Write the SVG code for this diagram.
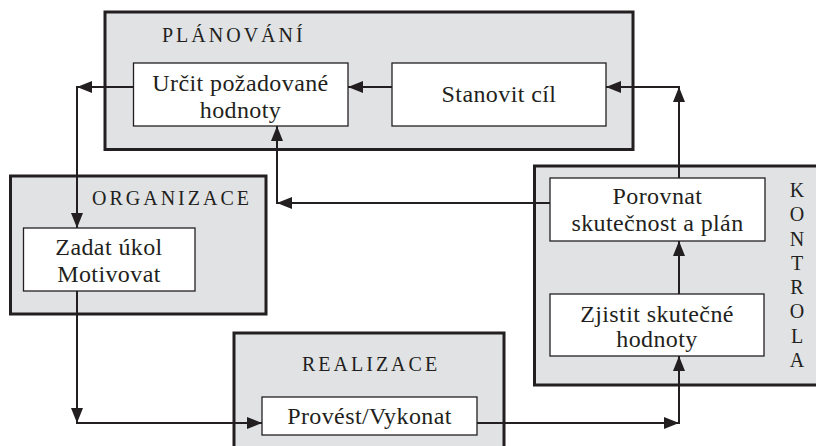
<svg xmlns="http://www.w3.org/2000/svg" width="816" height="446" viewBox="0 0 816 446">
<defs>
<marker id="ah" markerUnits="userSpaceOnUse" markerWidth="16" markerHeight="12" refX="15" refY="6" orient="auto">
<path d="M0,0 L15,6 L0,12 Z" fill="#231f20"/>
</marker>
<style>
.grp{fill:#e1e2e4;stroke:#231f20;stroke-width:3}
.box{fill:#ffffff;stroke:#231f20;stroke-width:1.3}
.t{font-size:24px;fill:#231f20;text-anchor:middle;letter-spacing:0.4px}
.h{font-size:20px;fill:#231f20;letter-spacing:3px}
.v{font-size:20px;fill:#231f20;text-anchor:middle}
.c{fill:none;stroke:#231f20;stroke-width:2;marker-end:url(#ah)}
</style>
</defs>
<rect width="816" height="446" fill="#ffffff"/>
<g font-family="Liberation Serif, Times New Roman, DejaVu Serif, serif">
<g id="planovani">
<rect class="grp" x="105" y="12" width="528" height="137.5"/>
<text class="h" x="162" y="42">PLÁNOVÁNÍ</text>
</g>
<g id="organizace">
<rect class="grp" x="10.5" y="176" width="255.5" height="138"/>
<text class="h" x="92" y="205">ORGANIZACE</text>
</g>
<g id="realizace">
<rect class="grp" x="234" y="333" width="270" height="120"/>
<text class="h" x="302" y="371">REALIZACE</text>
</g>
<g id="kontrola">
<rect class="grp" x="534.5" y="166" width="290" height="219"/>
<text class="v" x="797" y="197">K</text>
<text class="v" x="797" y="221">O</text>
<text class="v" x="797" y="246">N</text>
<text class="v" x="797" y="270">T</text>
<text class="v" x="797" y="294">R</text>
<text class="v" x="797" y="318">O</text>
<text class="v" x="797" y="343">L</text>
<text class="v" x="797" y="367">A</text>
</g>
<g id="urcit">
<rect class="box" x="133.5" y="63" width="214.5" height="63"/>
<text class="t" x="240.5" y="91">Určit požadované</text>
<text class="t" x="240.5" y="118">hodnoty</text>
</g>
<g id="stanovit">
<rect class="box" x="392" y="63" width="214" height="63"/>
<text class="t" x="499" y="102">Stanovit cíl</text>
</g>
<g id="zadat">
<rect class="box" x="23.5" y="228" width="171.5" height="63"/>
<text class="t" x="109" y="255">Zadat úkol</text>
<text class="t" x="109" y="282">Motivovat</text>
</g>
<g id="provest">
<rect class="box" x="262" y="397" width="215" height="38"/>
<text class="t" x="369.5" y="424">Provést/Vykonat</text>
</g>
<g id="porovnat">
<rect class="box" x="550" y="178" width="215" height="63"/>
<text class="t" x="657.5" y="204">Porovnat</text>
<text class="t" x="657.5" y="231">skutečnost a plán</text>
</g>
<g id="zjistit">
<rect class="box" x="550" y="294" width="214" height="62"/>
<text class="t" x="657" y="322">Zjistit skutečné</text>
<text class="t" x="657" y="347">hodnoty</text>
</g>
</g>
<g id="connectors">
<path class="c" d="M392,87 L348,87"/>
<path class="c" d="M133,87 L77,87"/>
<path class="c" d="M77,86 L77,228"/>
<path class="c" d="M77,291 L77,423"/>
<path class="c" d="M76,423 L262,423"/>
<path class="c" d="M477,423 L679,423"/>
<path class="c" d="M679,424 L679,356"/>
<path class="c" d="M679,294 L679,241"/>
<path class="c" d="M679,178 L679,87"/>
<path class="c" d="M680,87 L606,87"/>
<path class="c" d="M550,203 L277,203"/>
<path class="c" d="M277,204 L277,126"/>
</g>
</svg>
